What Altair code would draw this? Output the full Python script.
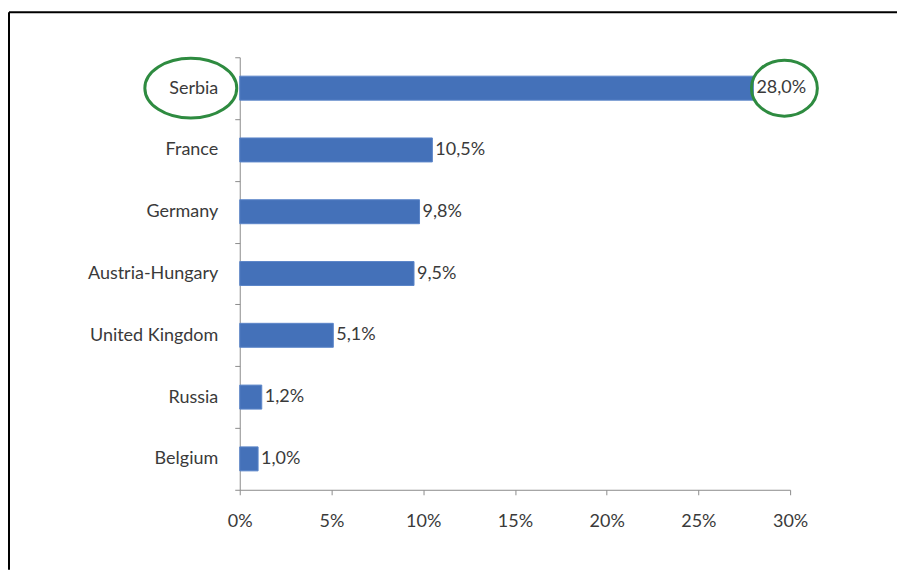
import altair as alt
import pandas as pd

countries = ["Serbia", "France", "Germany", "Austria-Hungary", "United Kingdom", "Russia", "Belgium"]
shares = [28.0, 10.5, 9.8, 9.5, 5.1, 1.2, 1.0]
x_ticks = [0, 5, 10, 15, 20, 25, 30]
highlight = "Serbia"

df = pd.DataFrame({"country": countries, "share": shares})
one = pd.DataFrame({"a": [0]})

W, H = 551, 433
FONT = "Lato"
FS = 18
TXT = "#3a3a3a"
AXC = "#8c8c8c"
BAR = "#4471B9"
GREEN = "#2E8B40"

xscale = alt.Scale(domain=[0, 30], nice=False)
yenc = alt.Y("country:N", sort=countries, title=None,
             scale=alt.Scale(paddingInner=0, paddingOuter=0),
             axis=alt.Axis(labelFont=FONT, labelFontSize=FS, labelColor=TXT,
                           labelPadding=17, tickSize=5, tickBand="extent",
                           tickColor=AXC, domainColor=AXC, labelLimit=300, grid=False))

base = alt.Chart(df)

bars = base.mark_bar(size=24, color=BAR, stroke="#5b86c9", strokeWidth=1).encode(
    x=alt.X("share:Q", scale=xscale, title=None,
            axis=alt.Axis(values=x_ticks, labelExpr="datum.value + '%'",
                          labelFont=FONT, labelFontSize=FS, labelColor=TXT,
                          labelPadding=18, tickSize=5, tickColor=AXC,
                          domainColor=AXC, grid=False, labelFlush=False)),
    y=yenc,
)

texts = base.transform_calculate(
    lbl="replace(format(datum.share, '.1f'), '.', ',') + '%'"
).mark_text(align="left", baseline="middle", dx=3, font=FONT, fontSize=FS, color=TXT).encode(
    x=alt.X("share:Q", scale=xscale), y=alt.Y("country:N", sort=countries), text="lbl:N"
)

sel = base.transform_filter(alt.datum.country == highlight)

ell1 = sel.mark_point(shape="M -1 0 A 1 0.65 0 1 0 1 0 A 1 0.65 0 1 0 -1 0 Z",
                      size=92 * 92, filled=False, stroke=GREEN, strokeWidth=3, opacity=1).encode(
    x=alt.value(-49), y=alt.Y("country:N", sort=countries)
)
ell2 = sel.mark_point(shape="M -1 0 A 1 0.85 0 1 0 1 0 A 1 0.85 0 1 0 -1 0 Z",
                      size=66 * 66, filled=False, stroke=GREEN, strokeWidth=3, opacity=1,
                      xOffset=31).encode(
    x=alt.X("share:Q", scale=xscale), y=alt.Y("country:N", sort=countries)
)

frame_top = alt.Chart(one).mark_rule(color="black", strokeWidth=2).encode(
    x=alt.value(-231), x2=alt.value(658), y=alt.value(-45)
)
frame_left = alt.Chart(one).mark_rule(color="black", strokeWidth=2).encode(
    x=alt.value(-231), y=alt.value(-45), y2=alt.value(513)
)

chart = alt.layer(frame_top, frame_left, bars, texts, ell1, ell2).properties(
    width=W, height=H, background="white",
    padding={"left": 0, "top": 3, "right": 0, "bottom": 0}
).configure_view(stroke="transparent", strokeWidth=0).configure_axis(grid=False)

chart.save("out.html", embed_options={"renderer": "svg", "actions": False})
